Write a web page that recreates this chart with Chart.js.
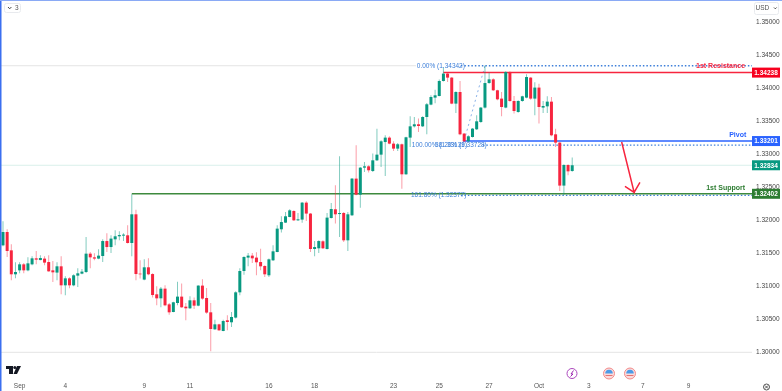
<!DOCTYPE html>
<html lang="en">
<head>
  <meta charset="UTF-8">
  <title>GBP/USD</title>
  <script src="https://cdn.jsdelivr.net/npm/chart.js"></script>
  <style>
    body { margin: 0; background: #fff; }
    canvas { display: block; }
  </style>
</head>
<body>
  <canvas id="priceChart" width="782" height="391"></canvas>

  <script>
    const open = [
      1.31621,1.31823,1.31545,1.31182,1.31242,1.31333,1.31242,1.31333,1.31424,1.31398,1.31420,1.31368,1.31242,1.31208,1.31303,1.31015,1.31121,1.31015,1.31162,1.31192,
      1.31217,1.31495,1.31439,1.31420,1.31459,1.31686,1.31595,1.31712,1.31758,1.31768,1.31773,1.31656,1.32091,1.31192,1.31102,1.31288,1.31186,1.30879,1.30818,1.30965,
      1.30727,1.30611,1.30747,1.30844,1.30692,1.30667,1.30788,1.30707,1.31011,1.30823,1.30606,1.30348,1.30424,1.30323,1.30485,1.30455,1.30526,1.30909,1.31232,1.31435,
      1.31465,1.31435,1.31368,1.31308,1.31167,1.31394,1.31520,1.31864,1.31965,1.32050,1.32141,1.32000,1.32011,1.32268,1.32102,1.31565,1.31576,1.31682,1.31565,1.32035,
      1.32167,1.32095,1.32111,1.31697,1.32076,1.32632,1.32389,1.32798,1.32818,1.32747,1.32909,1.32995,1.33186,1.33253,1.33162,1.33086,1.33152,1.32697,1.33253,1.33424,
      1.33455,1.33424,1.33565,1.33753,1.33859,1.33883,1.34111,1.34223,1.34162,1.33768,1.33944,1.33314,1.33197,1.33262,1.33379,1.33489,1.33708,1.34080,1.34136,1.33970,
      1.33844,1.33708,1.34247,1.33808,1.33641,1.33808,1.33859,1.34162,1.33844,1.34011,1.33708,1.33727,1.33798,1.33303,1.33177,1.32526,1.32838,1.32747
    ];
    const high = [
      1.31985,1.31864,1.31636,1.31364,1.31364,1.31353,1.31439,1.31454,1.31535,1.31470,1.31454,1.31470,1.31383,1.31364,1.31454,1.31151,1.31136,1.31182,1.31273,1.31262,
      1.31747,1.31520,1.31500,1.31561,1.31712,1.31803,1.31773,1.31848,1.31833,1.31803,1.31924,1.32394,1.32162,1.31394,1.31409,1.31424,1.31197,1.31000,1.30989,1.31015,
      1.30747,1.30768,1.31071,1.31041,1.30747,1.30848,1.30829,1.31015,1.31106,1.30974,1.30747,1.30495,1.30434,1.30495,1.30561,1.30611,1.30924,1.31273,1.31454,1.31505,
      1.31505,1.31515,1.31571,1.31318,1.31420,1.31621,1.31924,1.32061,1.32126,1.32167,1.32151,1.32111,1.32277,1.32288,1.32111,1.31686,1.31697,1.31697,1.32111,1.32262,
      1.32530,1.32970,1.32126,1.32126,1.32641,1.33136,1.32808,1.32883,1.32833,1.33011,1.33389,1.33212,1.33288,1.33273,1.33197,1.33171,1.33162,1.33268,1.33576,1.33565,
      1.33541,1.33576,1.33777,1.33894,1.33980,1.34132,1.34318,1.34232,1.34172,1.33955,1.34111,1.33324,1.33288,1.33399,1.33591,1.33718,1.34344,1.34238,1.34152,1.33980,
      1.33944,1.34258,1.34258,1.33883,1.33818,1.33889,1.34212,1.34172,1.34091,1.34071,1.33808,1.33879,1.33868,1.33389,1.33186,1.32848,1.32848,1.32950
    ];
    const low = [
      1.31606,1.31444,1.31091,1.31121,1.31197,1.31197,1.31227,1.31318,1.31333,1.31394,1.31318,1.31220,1.31065,1.31091,1.30879,1.30864,1.30970,1.31000,1.30989,1.31182,
      1.31202,1.31273,1.31394,1.31409,1.31368,1.31520,1.31505,1.31621,1.31697,1.31686,1.31647,1.31454,1.31091,1.31117,1.31091,1.31167,1.30829,1.30712,1.30682,1.30697,
      1.30571,1.30606,1.30712,1.30677,1.30485,1.30656,1.30656,1.30697,1.30798,1.30586,1.30015,1.30343,1.30328,1.30318,1.30333,1.30383,1.30511,1.30864,1.31177,1.31303,
      1.31353,1.31167,1.31242,1.31141,1.31141,1.31383,1.31515,1.31814,1.31959,1.32045,1.31989,1.31989,1.31965,1.31989,1.31520,1.31454,1.31505,1.31565,1.31556,1.32026,
      1.31950,1.31747,1.31671,1.31535,1.32065,1.32379,1.32192,1.32732,1.32723,1.32732,1.32899,1.32808,1.32671,1.33152,1.33050,1.33050,1.32480,1.32692,1.33111,1.33405,
      1.33338,1.33414,1.33303,1.33742,1.33773,1.33879,1.34102,1.34096,1.33758,1.33626,1.33288,1.33182,1.33182,1.33253,1.33368,1.33480,1.33693,1.34070,1.33959,1.33818,
      1.33576,1.33697,1.33798,1.33617,1.33631,1.33798,1.33848,1.33828,1.33591,1.33465,1.33626,1.33626,1.33273,1.33111,1.32444,1.32383,1.32682,1.32737
    ];
    const close = [
      1.31823,1.31535,1.31182,1.31217,1.31333,1.31242,1.31348,1.31424,1.31404,1.31429,1.31359,1.31227,1.31212,1.31303,1.31015,1.31121,1.31015,1.31167,1.31197,1.31223,
      1.31495,1.31439,1.31420,1.31465,1.31686,1.31595,1.31723,1.31758,1.31777,1.31783,1.31656,1.32091,1.31186,1.31182,1.31288,1.31182,1.30868,1.30818,1.30965,1.30712,
      1.30606,1.30758,1.30844,1.30682,1.30667,1.30788,1.30707,1.31011,1.30814,1.30602,1.30353,1.30424,1.30333,1.30474,1.30459,1.30535,1.30909,1.31232,1.31444,1.31465,
      1.31424,1.31364,1.31303,1.31182,1.31409,1.31530,1.31874,1.31974,1.32061,1.32151,1.32000,1.32015,1.32268,1.32102,1.31565,1.31595,1.31686,1.31576,1.32041,1.32171,
      1.32091,1.32111,1.31697,1.32091,1.32632,1.32389,1.32798,1.32818,1.32758,1.32909,1.32995,1.33197,1.33253,1.33162,1.33086,1.33152,1.32697,1.33258,1.33424,1.33455,
      1.33429,1.33565,1.33758,1.33868,1.33894,1.34111,1.34223,1.34162,1.33768,1.33944,1.33303,1.33197,1.33273,1.33389,1.33500,1.33708,1.34080,1.34136,1.33970,1.33833,
      1.33717,1.34247,1.33808,1.33656,1.33808,1.33879,1.34171,1.33844,1.34011,1.33717,1.33732,1.33798,1.33288,1.33177,1.32526,1.32838,1.32742,1.32834
    ];

    const xTickValues = [4, 15, 34, 45, 64, 75, 94, 105, 117, 129, 141, 154, 165];
    const xTickLabels = ['Sep', '4', '9', '11', '16', '18', '23', '25', '27', 'Oct', '3', '7', '9'];
    const yTickValues = [1.30, 1.305, 1.31, 1.315, 1.32, 1.325, 1.33, 1.335, 1.34, 1.345, 1.35];

    const resistance = 1.34238;
    const pivot = 1.33201;
    const support = 1.32402;
    const lastPrice = 1.32834;
    const floorLine = 1.30;
    const fib0 = 1.34342;
    const fib100 = 1.33139;
    const fib161 = 1.32377;

    const xMin = -0.48;
    const xMax = 180.27;

    const arrowX = [148.9, 151.9, 149.7, 151.9, 153.3];
    const arrowY = [1.33186, 1.32424, 1.32515, 1.32424, 1.32576];
    const fibTrendX = [110.7, 116];
    const fibTrendY = [fib100, fib0];

    const UP = '#089981';
    const DOWN = '#f7253f';
    const UP_WICK = 'rgba(8,153,129,0.5)';
    const DOWN_WICK = 'rgba(247,37,63,0.45)';
    const FIB = '#3d7fd9';
    const FONT = '"Liberation Sans", Arial, sans-serif';

    function span(from, to, y) {
      return [{ x: from, y: y }, { x: to, y: y }];
    }

    function levelLine(data, color, width, order, dash) {
      return {
        type: 'line',
        data: data,
        borderColor: color,
        borderWidth: width,
        borderDash: dash || [],
        pointRadius: 0,
        tension: 0,
        order: order
      };
    }

    const candleColors = close.map((c, i) => c >= open[i] ? UP : DOWN);
    const wickColors = close.map((c, i) => c >= open[i] ? UP_WICK : DOWN_WICK);

    const wicks = {
      type: 'bar',
      data: low.map((l, i) => ({ x: i, y: [l, high[i]] })),
      backgroundColor: wickColors,
      barThickness: 1,
      inflateAmount: 0,
      grouped: false,
      order: 2
    };
    const bodies = {
      type: 'bar',
      data: open.map((o, i) => ({ x: i, y: [o, close[i]] })),
      backgroundColor: candleColors,
      barThickness: 3,
      inflateAmount: 0,
      grouped: false,
      order: 1
    };

    const paleLines = [
      levelLine(span(xMin, xMax, floorLine), '#e4e4e4', 1, 5),
      levelLine(span(xMin, 99.4, fib0), '#e4e4e4', 1, 5),
      levelLine(span(xMin, xMax, lastPrice), '#d9f0eb', 1, 5)
    ];
    const levels = [
      levelLine(span(106, xMax, resistance), '#f7253f', 1.5, 4),
      levelLine(span(110.7, xMax, pivot), '#2962ff', 1.5, 4),
      levelLine(span(31, xMax, support), '#3e8a3e', 1.5, 4),
      levelLine(span(110.2, xMax, fib0), FIB, 1.3, 4, [1.5, 2]),
      levelLine(span(115.5, xMax, fib100), FIB, 1.3, 4, [1.5, 2]),
      levelLine(span(110.2, xMax, fib161), FIB, 1.3, 4, [1.5, 2]),
      levelLine(fibTrendX.map((x, i) => ({ x: x, y: fibTrendY[i] })), 'rgba(61,127,217,0.6)', 1, 4, [2, 3]),
      levelLine(arrowX.map((x, i) => ({ x: x, y: arrowY[i] })), '#f7253f', 1.5, 0)
    ];

    const drawingText = [
      { text: '0.00% (1.34342)', x: 99.6, y: fib0, color: FIB },
      { text: '100.00% (1.33139)', x: 98.4, y: fib100, color: FIB },
      { text: '38.20% (1.33728)', x: 104, y: fib100, color: FIB },
      { text: '161.80% (1.32377)', x: 98.2, y: fib161, color: FIB }
    ];
    const levelText = [
      { text: '1st Resistance', x: 178.6, y: 1.34342, color: '#f7253f' },
      { text: 'Pivot', x: 178.9, y: 1.33290, color: '#2962ff' },
      { text: '1st Support', x: 178.6, y: 1.32484, color: '#2e7d32' }
    ];
    const priceBoxes = [
      { value: resistance, color: '#f7001e' },
      { value: pivot, color: '#2962ff' },
      { value: lastPrice, color: UP },
      { value: support, color: '#2e7d32' }
    ];

    const extras = {
      id: 'extras',
      afterDraw(chart) {
        const c = chart.ctx;
        const x = chart.scales.x;
        const y = chart.scales.y;
        c.save();
        c.textBaseline = 'middle';

        // fib and level captions
        c.font = '6.5px ' + FONT;
        c.textAlign = 'left';
        drawingText.forEach(t => {
          c.fillStyle = t.color;
          c.fillText(t.text, x.getPixelForValue(t.x), y.getPixelForValue(t.y));
        });
        c.font = 'bold 7px ' + FONT;
        c.textAlign = 'right';
        levelText.forEach(t => {
          c.fillStyle = t.color;
          c.fillText(t.text, x.getPixelForValue(t.x), y.getPixelForValue(t.y));
        });

        // price labels on the axis
        c.font = 'bold 6.5px ' + FONT;
        c.textAlign = 'center';
        priceBoxes.forEach(b => {
          const py = y.getPixelForValue(b.value);
          c.fillStyle = b.color;
          c.fillRect(752, py - 5, 28, 10);
          c.fillStyle = '#fff';
          c.fillText(b.value.toFixed(5), 766, py + 0.5);
        });

        // window edges
        c.fillStyle = '#3b6ff0';
        c.fillRect(0, 0, 1.5, 391);
        c.fillStyle = '#8aaaf5';
        c.fillRect(0, 0, 782, 1);

        // top left and top right controls
        c.strokeStyle = '#e8eaee';
        c.lineWidth = 1;
        c.beginPath();
        c.roundRect(4.5, 3.5, 16, 9, 2);
        c.roundRect(754.5, 2.5, 24, 12, 2);
        c.stroke();
        c.strokeStyle = '#444';
        c.beginPath();
        c.moveTo(8, 7);
        c.lineTo(9.7, 8.8);
        c.lineTo(11.4, 7);
        c.moveTo(774, 7.5);
        c.lineTo(775.3, 8.8);
        c.lineTo(776.6, 7.5);
        c.stroke();
        c.fillStyle = '#555';
        c.font = '6.5px ' + FONT;
        c.textAlign = 'left';
        c.fillText('3', 15, 8);
        c.fillText('USD', 755.5, 8);

        // TV mark
        c.fillStyle = '#131722';
        c.fillRect(6, 366, 7, 3);
        c.fillRect(9, 366, 4, 8);
        c.beginPath();
        c.arc(14.8, 367.5, 1.5, 0, Math.PI * 2);
        c.fill();
        c.beginPath();
        c.moveTo(17, 366);
        c.lineTo(21, 366);
        c.lineTo(17, 374);
        c.lineTo(13.5, 374);
        c.fill();

        // event icons
        c.strokeStyle = '#ab47bc';
        c.beginPath();
        c.arc(572, 373.5, 5, 0, Math.PI * 2);
        c.stroke();
        c.strokeStyle = '#9c27b0';
        c.beginPath();
        c.moveTo(573.5, 370.5);
        c.lineTo(571, 374);
        c.lineTo(573, 374);
        c.lineTo(570.5, 376.5);
        c.stroke();
        [609, 630].forEach(fx => {
          c.fillStyle = '#fbdcdc';
          c.beginPath();
          c.arc(fx, 373.5, 5.5, 0, Math.PI * 2);
          c.fill();
          c.strokeStyle = '#f28b8b';
          c.stroke();
          c.fillStyle = '#4c9be8';
          c.beginPath();
          c.arc(fx, 373.5, 3.8, Math.PI, Math.PI * 2);
          c.fill();
          c.fillStyle = '#e57373';
          c.fillRect(fx - 3.5, 375, 7, 1);
        });

        // scroll button
        c.strokeStyle = '#555';
        c.beginPath();
        c.arc(766.5, 387, 3, 0, Math.PI * 2);
        c.moveTo(765, 385.5);
        c.lineTo(768, 388.5);
        c.moveTo(768, 385.5);
        c.lineTo(765, 388.5);
        c.stroke();
        c.restore();
      }
    };

    new Chart(document.getElementById('priceChart'), {
      type: 'bar',
      data: { datasets: [bodies, wicks].concat(levels, paleLines) },
      plugins: [extras],
      options: {
        responsive: false,
        animation: false,
        layout: { padding: { left: 1, right: 0, top: 0, bottom: 0 } },
        plugins: { legend: { display: false }, tooltip: { enabled: false } },
        scales: {
          x: {
            type: 'linear',
            offset: false,
            min: xMin,
            max: xMax,
            grid: { display: false, drawTicks: false },
            border: { display: false },
            afterFit(scale) {
              scale.height = 13;
              scale.paddingLeft = 0;
              scale.paddingRight = 0;
            },
            afterBuildTicks(scale) { scale.ticks = xTickValues.map(v => ({ value: v })); },
            ticks: {
              autoSkip: false,
              maxRotation: 0,
              padding: 4,
              color: '#555',
              font: { family: FONT, size: 6.5 },
              callback: v => xTickLabels[xTickValues.indexOf(v)]
            }
          },
          y: {
            position: 'right',
            min: 1.29611,
            max: 1.35338,
            grid: { display: false, drawTicks: false },
            border: { display: false },
            afterFit(scale) {
              scale.width = 30;
              scale.paddingTop = 0;
              scale.paddingBottom = 0;
            },
            afterBuildTicks(scale) { scale.ticks = yTickValues.map(v => ({ value: v })); },
            ticks: {
              autoSkip: false,
              padding: 4,
              color: '#444',
              font: { family: FONT, size: 6.5 },
              callback: v => v.toFixed(5)
            }
          }
        }
      }
    });
  </script>
</body>
</html>
